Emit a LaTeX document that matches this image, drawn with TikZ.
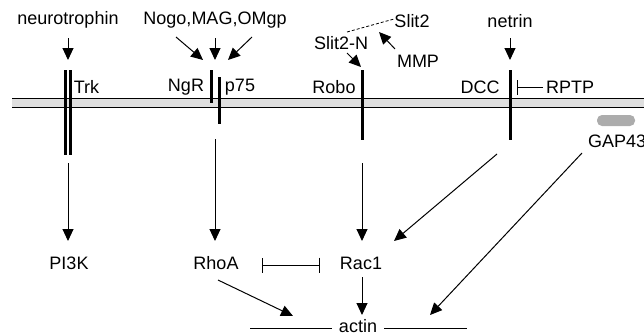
\documentclass[tikz,border=0pt]{standalone}
\usepackage{fontspec}
\setmainfont{Liberation Sans}
\usetikzlibrary{arrows.meta}
\begin{document}
\begin{tikzpicture}[x=1pt,y=-1pt,
 lbl/.style={font=\fontsize{18}{21}\selectfont, inner sep=1pt},
 arr/.style={-{Triangle[length=12pt,width=11pt]}, line width=1pt},
 bar/.style={fill=black, inner sep=0pt, minimum width=3pt},
 inh/.style={-{Bar[width=15pt]}, line width=1pt},
 inh2/.style={{Bar[width=15pt]}-{Bar[width=15pt]}, line width=1pt}]
\useasboundingbox (0,0) rectangle (644,333);
\clip (0,0) rectangle (644,333);
% membrane
\fill[gray!25] (12,98) rectangle (650,107);
\draw[line width=1pt] (12,98) -- (650,98) (12,107) -- (650,107);
% receptors
\node[bar, minimum height=85pt] (trka) at (65.3,112.5) {};
\node[bar, minimum height=85pt] (trkb) at (70.5,112.5) {};
\node[bar, minimum height=33pt] (ngr) at (211,86.5) {};
\node[bar, minimum height=47pt] (p75) at (219,100.5) {};
\node[bar, minimum height=70pt] (robo) at (362,105) {};
\node[bar, minimum height=70pt] (dcc) at (510,105) {};
\node[fill=gray!65, rounded corners=5pt, minimum width=38pt, minimum height=11pt, inner sep=0pt] (gappill) at (616,120.5) {};
% labels
\node[lbl] (neuro) at (68,20) {neurotrophin};
\node[lbl] (nogo) at (215,20) {Nogo,MAG,OMgp};
\node[lbl] (slit2) at (412,21) {Slit2};
\node[lbl] (netrin) at (510,21) {netrin};
\node[lbl] (slitn) at (341,43) {Slit2-N};
\node[lbl] (mmp) at (418,61) {MMP};
\node[lbl] (trk) at (86.5,87) {Trk};
\node[lbl] (ngrl) at (186,87) {NgR};
\node[lbl] (p75l) at (240,87) {p75};
\node[lbl] (robol) at (334,87) {Robo};
\node[lbl] (dccl) at (480,87) {DCC};
\node[lbl] (rptp) at (570,87) {RPTP};
\node[lbl, anchor=west] (gap) at (587,141) {GAP43};
\node[lbl] (pi3k) at (69,263) {PI3K};
\node[lbl] (rhoa) at (216,263) {RhoA};
\node[lbl] (rac1) at (361,263) {Rac1};
\node[lbl, anchor=base] (actin) at (358,332) {actin};
% coordinates
\coordinate (a1s) at (68,38);  \coordinate (a1e) at (68,60);
\coordinate (a2s) at (215,38); \coordinate (a2e) at (215,60);
\coordinate (a3s) at (176,37); \coordinate (a3e) at (203,60);
\coordinate (a4s) at (252,37); \coordinate (a4e) at (228,60);
\coordinate (a5s) at (347,53); \coordinate (a5e) at (361,67);
\coordinate (a6s) at (395,49); \coordinate (a6e) at (379,32);
\coordinate (d1) at (347,32);  \coordinate (d2) at (394,19);
\coordinate (a7s) at (510,38); \coordinate (a7e) at (510,60);
\coordinate (i1s) at (543,87); \coordinate (i1e) at (517,87);
\coordinate (b1s) at (68,163); \coordinate (b1e) at (68,241);
\coordinate (b2s) at (215,139); \coordinate (b2e) at (215,241);
\coordinate (b3s) at (362,163); \coordinate (b3e) at (362,241);
\coordinate (b4s) at (497,154); \coordinate (b4e) at (394,241);
\coordinate (b5s) at (582,153); \coordinate (b5e) at (430,315);
\coordinate (i2s) at (262,265); \coordinate (i2e) at (320,265);
\coordinate (c1s) at (218,280); \coordinate (c1e) at (293,316);
\coordinate (c2s) at (362,277); \coordinate (c2e) at (362,315);
\coordinate (al) at (250,328); \coordinate (ar) at (467,328);
\coordinate (alx) at (332,328); \coordinate (arx) at (384,328);
% connectors
\draw[arr] (a1s) -- (a1e);
\draw[arr] (a2s) -- (a2e);
\draw[arr] (a3s) -- (a3e);
\draw[arr] (a4s) -- (a4e);
\draw[arr] (a5s) -- (a5e);
\draw[arr] (a6s) -- (a6e);
\draw[line width=0.8pt, dash pattern=on 3pt off 2pt] (d1) -- (d2);
\draw[arr] (a7s) -- (a7e);
\draw[inh] (i1s) -- (i1e);
\draw[arr] (b1s) -- (b1e);
\draw[arr] (b2s) -- (b2e);
\draw[arr] (b3s) -- (b3e);
\draw[arr] (b4s) -- (b4e);
\draw[arr] (b5s) -- (b5e);
\draw[inh2] (i2s) -- (i2e);
\draw[arr] (c1s) -- (c1e);
\draw[arr] (c2s) -- (c2e);
\draw[line width=1pt] (al) -- (alx) (arx) -- (ar);
\end{tikzpicture}
\end{document}
